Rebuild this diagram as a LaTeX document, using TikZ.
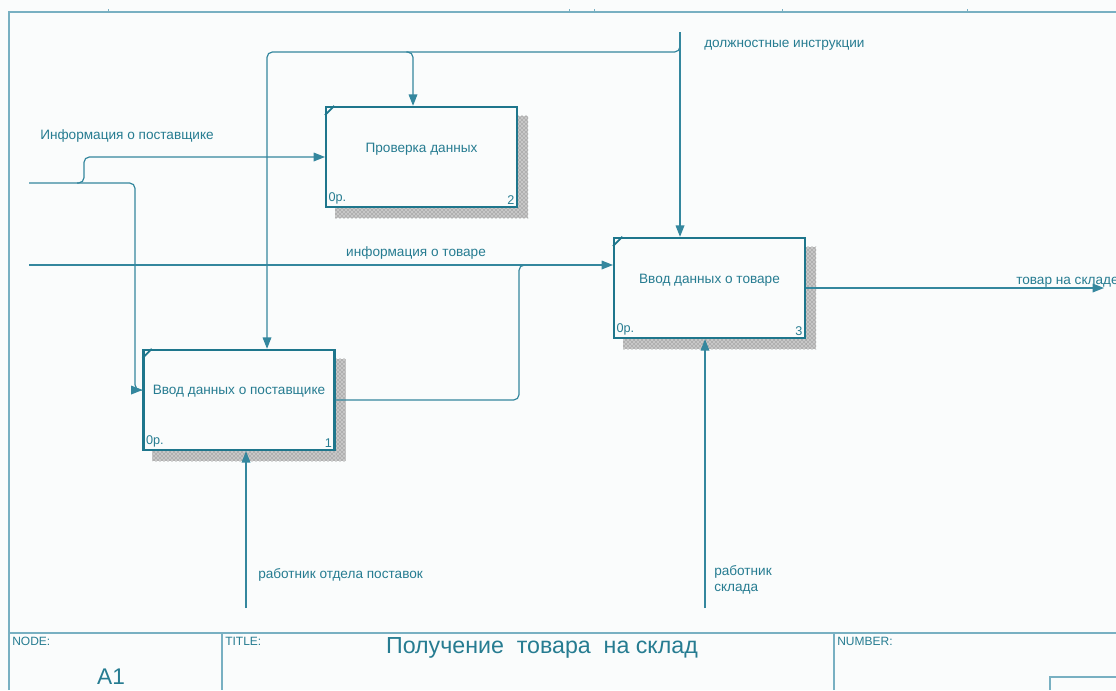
\documentclass[tikz,border=0pt]{standalone}
\usepackage{fontspec}
\setmainfont{Liberation Sans}
\usetikzlibrary{arrows.meta,patterns}
\pgfdeclarelayer{background}
\pgfsetlayers{background,main}

\definecolor{ideftext}{RGB}{38,124,145}
\definecolor{idefbox}{RGB}{30,118,140}
\definecolor{idefline}{RGB}{52,135,158}
\definecolor{idefframe}{RGB}{120,176,194}
\definecolor{idefpage}{RGB}{250,252,252}

\tikzset{
  actbox/.style={draw=idefbox, fill=idefpage, line width=1.8pt, minimum width=143pt, minimum height=75pt, inner sep=0pt},
  boxname/.style={text=ideftext, font=\fontsize{10.2}{12}\selectfont},
  boxtag/.style={text=ideftext, font=\fontsize{9.5}{11}\selectfont, inner sep=2.5pt},
  boxshade/.style={fill=black!22, postaction={pattern=crosshatch dots, pattern color=black!60}},
  flow/.style={draw=idefline, line width=0.9pt, rounded corners=4pt, -{Triangle[length=8.5pt,width=6.5pt]}},
  link/.style={draw=idefline, line width=0.9pt, rounded corners=4pt},
  arrlabel/.style={text=ideftext, font=\fontsize{10.2}{12}\selectfont, inner sep=0pt},
  frameline/.style={draw=idefframe, line width=1.1pt},
  frametag/.style={text=ideftext, font=\fontsize{9}{10}\selectfont, inner sep=0pt, anchor=north west},
}

\begin{document}
\begin{tikzpicture}[x=0.75pt, y=-0.75pt]
\useasboundingbox (0,0) rectangle (1116,690);

% frame and title block
\draw[frameline] (9,690) -- (9,12) -- (1116,12);
\foreach \t in {108,569,594,782,967}
  \draw[frameline, line width=0.6pt] (\t,9) -- (\t,12);
\draw[frameline] (9,633) -- (1116,633);
\draw[frameline] (222,633) -- (222,690);
\draw[frameline] (834,633) -- (834,690);
\draw[frameline] (1050,690) -- (1050,677) -- (1116,677);

\node[frametag] (nodetag) at (12,637) {NODE:};
\node[frametag] (titletag) at (225,637) {TITLE:};
\node[frametag] (numtag) at (837,637) {NUMBER:};
\node[text=ideftext, font=\fontsize{17}{19}\selectfont] (nodeno) at (111,677) {A1};
\node[text=ideftext, font=\fontsize{17.4}{19}\selectfont] (title) at (542,648) {Получение\ \ товара\ \ на склад};

% activities
\node[actbox, label={[boxname,yshift=6.5pt]center:Ввод данных о поставщике},
  label={[boxtag,anchor=south west]south west:0р.},
  label={[boxtag,anchor=south east]south east:1}] (b1) at (239,400) {};
\node[actbox, label={[boxname,yshift=5.5pt]center:Проверка данных},
  label={[boxtag,anchor=south west]south west:0р.},
  label={[boxtag,anchor=south east]south east:2}] (b2) at (421.5,157) {};
\node[actbox, label={[boxname,yshift=6pt]center:Ввод данных о товаре},
  label={[boxtag,anchor=south west]south west:0р.},
  label={[boxtag,anchor=south east]south east:3}] (b3) at (709.5,288) {};

\begin{pgfonlayer}{background}
\fill[idefpage] (0,0) rectangle (1116,690);
\foreach \b in {b1,b2,b3} {
  \path[boxshade] ([yshift=-7.5pt]\b.north east) rectangle ([xshift=7.5pt,yshift=-7.5pt]\b.south east);
  \path[boxshade] ([xshift=7.5pt]\b.south west) rectangle ([yshift=-7.5pt]\b.south east);
}
\end{pgfonlayer}
\foreach \b in {b1,b2,b3}
  \draw[idefbox, line width=1.4pt] ([yshift=-7pt]\b.north west) -- ([xshift=7pt]\b.north west);

% inputs
\coordinate (supIn) at (29,183);
\draw[flow] (supIn) -| (135,390) -- ([yshift=7.5pt]b1.west);
\draw[flow] (77,183) -| (84,157) -- (b2.west);
\coordinate (goodsIn) at (29,265);
\draw[flow] (goodsIn) -- ([yshift=17.25pt]b3.west);
\draw[link] (b1.east) -| (519,265) -- (527,265);

% output
\coordinate (goodsOut) at (1104,288);
\draw[flow] (b3.east) -- (goodsOut);

% controls
\coordinate (instrTop) at (680,32);
\coordinate (instrJ) at (680,44);
\coordinate (mgrDrop) at (267,52);
\coordinate (chkDrop) at (413,52);
\draw[flow] (instrTop) -- (instrTop |- b3.north);
\draw[flow] (instrJ) |- (mgrDrop) -- (mgrDrop |- b1.north);
\draw[flow] ([xshift=-5pt]chkDrop) -| (chkDrop |- b2.north);

% mechanisms
\coordinate (staffA) at (246,608);
\coordinate (staffB) at (705,608);
\draw[flow] (staffA) -- (staffA |- b1.south);
\draw[flow] (staffB) -- (staffB |- b3.south);

% arrow labels
\node[arrlabel, anchor=west] (lSup) at (40,136) {Информация о поставщике};
\node[arrlabel, anchor=west] (lInstr) at (704,45) {должностные инструкции};
\node[arrlabel] (lGoods) at (416,253) {информация о товаре};
\node[arrlabel, anchor=west] (lOut) at (1016,282) {товар на складе};
\node[arrlabel, anchor=west] (lStaffA) at (258,575) {работник отдела поставок};
\node[arrlabel, anchor=west, align=left] (lStaffB) at (714,580) {работник\\склада};

\end{tikzpicture}
\end{document}
